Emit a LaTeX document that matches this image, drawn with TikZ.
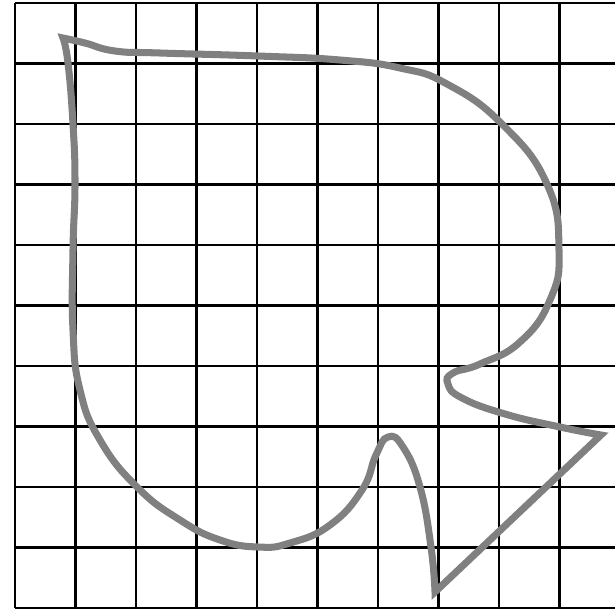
\documentclass[tikz,border=0pt]{standalone}
\begin{document}
\begin{tikzpicture}[x=0.2mm,y=-0.2mm,
  gridline/.style={line width=1.2pt,draw=black},
  outline/.style={line width=4pt,draw=black!50,line join=miter}]
\useasboundingbox (0,0) rectangle (615,611);
\clip (0,0) rectangle (615,611);
\fill[white] (0,0) rectangle (615,611);
\foreach \i in {0,...,10}{
  \draw[gridline] (15+60.5*\i,3) -- (15+60.5*\i,608);
  \draw[gridline] (15,3+60.5*\i) -- (625,3+60.5*\i);
}
\draw[outline]
  plot[smooth,tension=0.8] coordinates {
    (63,38) (85,43) (115,51) (160,53) (258,56) (340,60)
    (400,68) (447,84) (502,124) (547,184) (559,250) (550,300)
    (520,342) (480,364) (453,373) (448,384) (462,398) (505,414)
    (560,427) (601,435)}
  -- (435,592)
  -- plot[smooth,tension=0.8] coordinates {
    (435,592) (431,547) (420,487) (403,447) (388,437) (376,455)
    (362,490) (330,525) (290,543) (258,547) (220,540) (180,520)
    (137,487) (100,440) (80,390) (73,330) (73,250) (75,184) (73,124)
    (68,63) (63,38)}
  -- cycle;
\end{tikzpicture}
\end{document}
